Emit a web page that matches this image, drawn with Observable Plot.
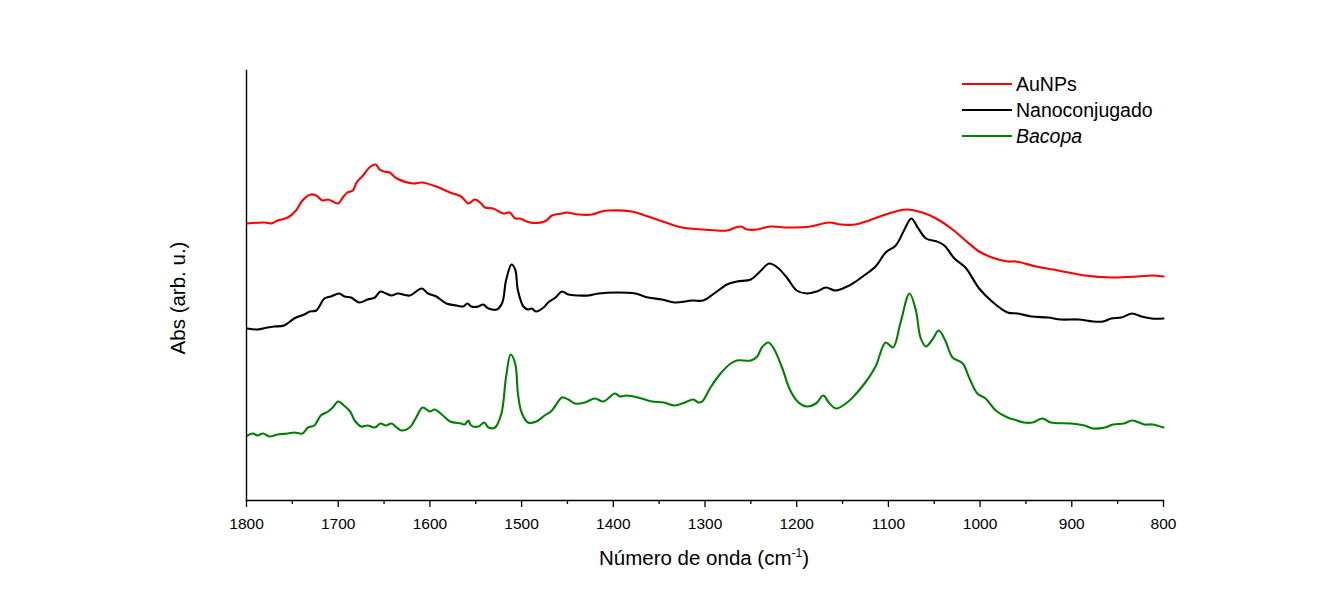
<!DOCTYPE html>
<html><head><meta charset="utf-8">
<script src="https://cdn.jsdelivr.net/npm/d3@7"></script>
<script src="https://cdn.jsdelivr.net/npm/@observablehq/plot@0.6"></script>
<style>
body{margin:0;background:#fff;}
#wrap{position:relative;width:1338px;height:592px;}
</style>
</head><body><div id="wrap"></div>
<script>
const seriesNames = ["AuNPs", "Nanoconjugado", "Bacopa"];
const seriesColors = ["#ff0000", "#000000", "#008000"];
const xTicksMajor = [1800, 1700, 1600, 1500, 1400, 1300, 1200, 1100, 1000, 900, 800];
const xTicksMinor = [1750, 1650, 1550, 1450, 1350, 1250, 1150, 1050, 950, 850];

const aunpsWn = [1799,1780,1773,1766,1755,1746,1739,1730,1724,1717,1711,1706,1700,1695,1690,1684,1680,1673,1666,1659,1655,1650,1644,1636,1618,1609,1593,1578,1566,1558,1551,1544,1540,1531,1520,1513,1507,1502,1491,1475,1467,1463,1456,1451,1438,1423,1413,1405,1380,1362,1343,1325,1302,1276,1267,1261,1254,1243,1229,1210,1185,1165,1152,1136,1121,1103,1081,1063,1048,1030,1016,1001,987,970,961,939,915,886,857,828,812,800];
const aunpsAbs = [2.77,2.78,2.77,2.80,2.83,2.90,3.00,3.06,3.05,3.00,3.01,2.99,2.97,3.03,3.08,3.10,3.18,3.25,3.33,3.36,3.31,3.29,3.28,3.22,3.17,3.18,3.14,3.08,3.04,2.97,3.01,2.97,2.93,2.92,2.87,2.88,2.82,2.82,2.78,2.79,2.85,2.86,2.87,2.88,2.86,2.86,2.89,2.90,2.89,2.84,2.78,2.73,2.71,2.70,2.73,2.74,2.71,2.71,2.74,2.73,2.74,2.78,2.76,2.76,2.80,2.86,2.91,2.88,2.82,2.71,2.60,2.49,2.43,2.39,2.39,2.34,2.30,2.25,2.23,2.24,2.25,2.24];

const nanoWn = [1799,1788,1777,1770,1759,1748,1737,1731,1724,1715,1708,1699,1693,1686,1677,1668,1660,1654,1648,1642,1635,1622,1609,1602,1593,1582,1571,1564,1559,1555,1547,1542,1536,1527,1521,1517,1511,1507,1504,1498,1493,1489,1484,1476,1471,1463,1456,1449,1438,1427,1416,1396,1376,1362,1347,1333,1314,1302,1290,1276,1265,1250,1240,1230,1221,1210,1200,1189,1178,1168,1158,1145,1139,1128,1114,1103,1092,1083,1075,1068,1059,1047,1039,1028,1016,1001,987,970,959,944,926,912,893,877,866,857,846,834,824,813,800];
const nanoAbs = [1.72,1.71,1.73,1.74,1.75,1.82,1.86,1.89,1.90,2.02,2.04,2.07,2.04,2.03,1.98,2.01,2.03,2.09,2.07,2.05,2.07,2.05,2.12,2.07,2.04,1.97,1.95,1.94,1.97,1.94,1.94,1.96,1.92,1.91,1.98,2.20,2.36,2.31,2.10,1.94,1.91,1.92,1.89,1.93,1.98,2.03,2.09,2.06,2.05,2.05,2.07,2.08,2.07,2.03,2.01,1.98,2.00,2.00,2.07,2.16,2.19,2.21,2.29,2.37,2.33,2.22,2.10,2.07,2.09,2.13,2.10,2.14,2.17,2.24,2.34,2.48,2.55,2.70,2.82,2.73,2.62,2.59,2.55,2.42,2.33,2.12,1.99,1.88,1.87,1.84,1.83,1.81,1.81,1.79,1.79,1.82,1.83,1.87,1.84,1.82,1.82];

const bacopaWn = [1799,1793,1788,1782,1775,1766,1755,1748,1739,1733,1726,1719,1711,1706,1700,1695,1687,1682,1675,1668,1660,1654,1648,1642,1636,1631,1622,1615,1608,1600,1595,1587,1578,1566,1562,1558,1555,1547,1541,1536,1529,1522,1517,1512,1507,1504,1500,1493,1484,1475,1468,1463,1456,1449,1442,1431,1420,1411,1398,1393,1385,1373,1358,1345,1333,1322,1313,1307,1303,1294,1283,1272,1265,1250,1243,1238,1231,1225,1216,1207,1198,1189,1179,1171,1165,1157,1145,1139,1126,1114,1103,1095,1087,1077,1070,1065,1059,1052,1045,1038,1030,1019,1012,1003,994,983,970,963,952,943,932,923,901,886,877,864,855,843,834,821,812,800];
const bacopaAbs = [0.65,0.67,0.65,0.67,0.64,0.66,0.67,0.68,0.67,0.73,0.75,0.85,0.89,0.93,0.99,0.96,0.89,0.80,0.74,0.75,0.73,0.77,0.75,0.77,0.73,0.70,0.73,0.83,0.93,0.89,0.91,0.86,0.79,0.77,0.76,0.80,0.75,0.74,0.78,0.73,0.73,0.87,1.23,1.46,1.37,1.07,0.88,0.78,0.79,0.85,0.89,0.95,1.03,1.01,0.97,0.98,1.02,0.99,1.07,1.04,1.05,1.03,0.99,0.98,0.95,0.98,1.01,0.98,0.99,1.13,1.27,1.37,1.40,1.40,1.44,1.53,1.58,1.52,1.33,1.10,0.98,0.94,0.97,1.05,0.98,0.92,0.98,1.03,1.17,1.34,1.58,1.53,1.77,2.07,1.90,1.63,1.54,1.61,1.70,1.60,1.43,1.37,1.23,1.07,1.02,0.90,0.83,0.81,0.78,0.78,0.82,0.78,0.77,0.75,0.72,0.73,0.76,0.77,0.80,0.76,0.76,0.73];

const wnSets = [aunpsWn, nanoWn, bacopaWn];
const absSets = [aunpsAbs, nanoAbs, bacopaAbs];
const rows = [];
seriesNames.forEach((name, i) => {
  wnSets[i].forEach((w, j) => rows.push({series: name, wn: w, abs: absSets[i][j]}));
});

const sans = '"Liberation Sans", Arial, sans-serif';

const svg = Plot.plot({
  width: 1338,
  height: 592,
  marginLeft: 246,
  marginRight: 175,
  marginTop: 70,
  marginBottom: 92,
  style: {background: "#fff", fontFamily: sans, color: "#000"},
  x: {domain: [1800, 800]},
  y: {domain: [0, 4.3], axis: null},
  color: {domain: seriesNames, range: seriesColors},
  marks: [
    Plot.line(rows, {x: "wn", y: "abs", z: "series", stroke: "series", strokeWidth: 2.1, curve: "catmull-rom"}),
    Plot.axisX({ticks: xTicksMinor, tickSize: 4, text: null, label: null, stroke: "#000", strokeWidth: 1.3}),
    Plot.axisX({ticks: xTicksMajor, tickSize: 7, tickPadding: 10, tickFormat: d => String(d), label: null, fontSize: 15.5, stroke: "#000", strokeWidth: 1.3, fill: "#000"}),
    Plot.frame({anchor: "left", stroke: "#000", strokeWidth: 1.4}),
    Plot.frame({anchor: "bottom", stroke: "#000", strokeWidth: 1.4})
  ]
});

const s = d3.select(svg);
// y label
s.append("text")
  .attr("transform", "translate(185,298) rotate(-90)")
  .attr("text-anchor", "middle")
  .attr("font-family", sans)
  .attr("font-size", 20.5)
  .attr("fill", "#000")
  .text("Abs (arb. u.)");
// x label
const xl = s.append("text")
  .attr("x", 704).attr("y", 565)
  .attr("text-anchor", "middle")
  .attr("font-family", sans)
  .attr("font-size", 20.5)
  .attr("fill", "#000");
xl.append("tspan").text("Número de onda (cm");
xl.append("tspan").attr("dy", -8).attr("font-size", 12).text("-1");
xl.append("tspan").attr("dy", 8).text(")");

// legend
const legendTop = [84, 110, 136];
seriesNames.forEach((name, i) => {
  s.append("line").attr("x1", 962).attr("x2", 1012).attr("y1", legendTop[i]).attr("y2", legendTop[i])
    .attr("stroke", seriesColors[i]).attr("stroke-width", 2.2);
  s.append("text").attr("x", 1016).attr("y", legendTop[i] + 6.5)
    .attr("text-anchor", "start")
    .attr("font-family", sans).attr("font-size", 19.5).attr("fill", "#000")
    .attr("font-style", name === "Bacopa" ? "italic" : "normal")
    .text(name);
});

document.getElementById("wrap").appendChild(svg);
</script>
</body></html>
